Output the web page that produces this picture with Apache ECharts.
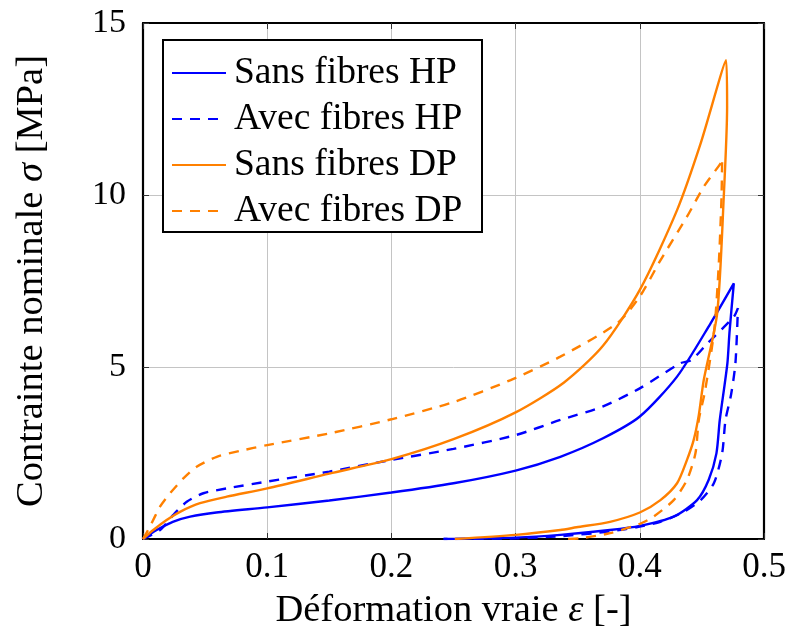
<!DOCTYPE html>
<html><head><meta charset="utf-8">
<script src="https://cdn.jsdelivr.net/npm/echarts@6/dist/echarts.min.js"></script>
<style>html,body{margin:0;padding:0;background:#fff}#c{width:789px;height:637px}</style>
</head><body><div id="c"></div>
<script>
const seriesNames = ['Sans fibres HP', 'Avec fibres HP', 'Sans fibres DP', 'Avec fibres DP'];
const xTicks = [0, 0.1, 0.2, 0.3, 0.4, 0.5];
const yTicks = [0, 5, 10, 15];

const sansHP = [[0,0],[0.011,0.26],[0.024,0.50],[0.038,0.65],[0.059,0.77],[0.1,0.92],[0.15,1.12],[0.2,1.35],[0.25,1.62],[0.3,1.99],[0.336,2.39],[0.37,2.92],[0.4,3.56],[0.43,4.72],[0.457,6.27],[0.4757,7.43],
  [0.4722,6.0],[0.4705,5.1],[0.4644,3.46],[0.4617,2.49],[0.4555,1.72],[0.4461,1.13],[0.4273,0.65],[0.4,0.38],[0.376,0.26],[0.336,0.12],[0.3,0.04],[0.242,0]];
const avecHP = [[0,0],[0.0137,0.26],[0.0244,0.70],[0.0352,1.08],[0.0486,1.33],[0.0674,1.47],[0.1,1.67],[0.15,1.96],[0.2,2.30],[0.25,2.62],[0.3,3.02],[0.336,3.46],[0.37,3.85],[0.4,4.38],[0.4327,5.11],[0.4415,5.2],[0.4545,5.69],[0.4757,6.46],[0.479,6.71],
  [0.477,5.11],[0.4735,4.2],[0.469,3.46],[0.4663,2.49],[0.4596,1.62],[0.449,1.13],[0.4354,0.79],[0.4166,0.50],[0.4,0.36],[0.376,0.22],[0.336,0.08],[0.3,0.02],[0.242,0]];
const sansDP = [[0,0],[0.0083,0.26],[0.019,0.55],[0.0298,0.79],[0.0459,1.04],[0.0674,1.23],[0.1,1.47],[0.15,1.90],[0.2,2.32],[0.25,2.9],[0.3,3.68],[0.339,4.55],[0.37,5.6],[0.4,7.24],[0.43,9.56],[0.449,11.5],[0.4695,13.92],
  [0.4703,12.57],[0.4676,9.95],[0.4623,6.56],[0.4515,4.62],[0.4475,3.6],[0.4434,2.88],[0.438,2.30],[0.43,1.62],[0.4166,1.13],[0.4,0.77],[0.376,0.50],[0.349,0.34],[0.336,0.26],[0.3,0.12],[0.251,0]];
const avecDP = [[0,0],[0.0056,0.36],[0.0137,0.94],[0.0218,1.33],[0.0325,1.76],[0.0432,2.10],[0.0594,2.39],[0.078,2.56],[0.1,2.73],[0.15,3.07],[0.2,3.48],[0.25,3.98],[0.296,4.62],[0.336,5.30],[0.3817,6.27],[0.4,7.05],[0.4166,8.1],[0.438,9.37],[0.4515,10.24],[0.465,10.92],[0.4663,11.05],
  [0.4658,9.95],[0.4636,8.0],[0.46,6.1],[0.4525,4.3],[0.4475,3.46],[0.4448,2.49],[0.438,1.72],[0.4273,1.13],[0.411,0.65],[0.4,0.44],[0.376,0.17],[0.352,0.02],[0.336,0]];

const FONT = 'Liberation Serif';
const BLUE = '#0000ff', ORANGE = '#ff8000';
const chart = echarts.init(document.getElementById('c'), null, {renderer: 'canvas'});

function mk(name, data, color, dashed) {
  return {
    name, type: 'line', data, symbol: 'none', smooth: 0.25, xAxisIndex: 0, yAxisIndex: 0,
    lineStyle: {color, width: 2.4, type: dashed ? [10, 8] : 'solid'},
    itemStyle: {color}, z: 3
  };
}
const tickStyle = {show: true, inside: true, length: 6, lineStyle: {color: '#333', width: 1}};
const gridLine = {show: true, lineStyle: {color: '#c4c4c4', width: 1}};
const TITLE = 38.5;

chart.setOption({
  animation: false,
  grid: {left: 143, right: 25, top: 23, bottom: 98, containLabel: false},
  xAxis: [{
    type: 'value', min: 0, max: 0.5, interval: 0.1,
    axisLine: {show: true, onZero: false, lineStyle: {color: '#000', width: 2.2}},
    axisTick: tickStyle, splitLine: gridLine,
    axisLabel: {margin: 11, fontFamily: FONT, fontSize: 35, color: '#000',
      formatter: v => { const t = xTicks.find(k => Math.abs(k - v) < 1e-9); return t === undefined ? '' : String(t); }},
    name: '{a|Déformation vraie }{i|ε}{a| [-]}', nameLocation: 'middle', nameGap: 52,
    nameTextStyle: {rich: {a: {fontFamily: FONT, fontSize: TITLE, color: '#000'}, i: {fontFamily: FONT, fontSize: TITLE, fontStyle: 'italic', color: '#000'}}}
  }, {
    type: 'value', position: 'top', min: 0, max: 0.5, interval: 0.1,
    axisLine: {show: true, onZero: false, lineStyle: {color: '#000', width: 2.2}},
    axisTick: tickStyle, splitLine: {show: false}, axisLabel: {show: false}
  }],
  yAxis: [{
    type: 'value', min: 0, max: 15, interval: 5,
    axisLine: {show: true, onZero: false, lineStyle: {color: '#000', width: 2.2}},
    axisTick: tickStyle, splitLine: gridLine,
    axisLabel: {margin: 17, fontFamily: FONT, fontSize: 34, color: '#000',
      formatter: v => { const t = yTicks.find(k => Math.abs(k - v) < 1e-9); return t === undefined ? '' : String(t); }},
    name: '{a|Contrainte nominale }{i|σ}{a| [MPa]}', nameLocation: 'middle', nameGap: 92, nameRotate: 90,
    nameTextStyle: {rich: {a: {fontFamily: FONT, fontSize: TITLE, color: '#000'}, i: {fontFamily: FONT, fontSize: TITLE, fontStyle: 'italic', color: '#000'}}}
  }, {
    type: 'value', position: 'right', min: 0, max: 15, interval: 5,
    axisLine: {show: true, onZero: false, lineStyle: {color: '#000', width: 2.2}},
    axisTick: tickStyle, splitLine: {show: false}, axisLabel: {show: false}
  }],
  legend: {
    show: true, orient: 'vertical', left: 166, top: 49,
    itemWidth: 54, itemHeight: 14, itemGap: 8,
    data: seriesNames,
    itemStyle: {opacity: 0, borderWidth: 0},
    textStyle: {fontFamily: FONT, fontSize: 37.5, color: '#000', lineHeight: 36, padding: [0, 0, 0, 3]},
    backgroundColor: 'transparent', z: 10
  },
  graphic: [{
    type: 'rect', left: 162, top: 39, z: 5,
    shape: {width: 319, height: 192},
    style: {fill: '#fff', stroke: '#000', lineWidth: 2}
  }],
  series: [
    mk(seriesNames[0], sansHP, BLUE, false),
    mk(seriesNames[1], avecHP, BLUE, true),
    mk(seriesNames[2], sansDP, ORANGE, false),
    mk(seriesNames[3], avecDP, ORANGE, true)
  ]
});
</script></body></html>
